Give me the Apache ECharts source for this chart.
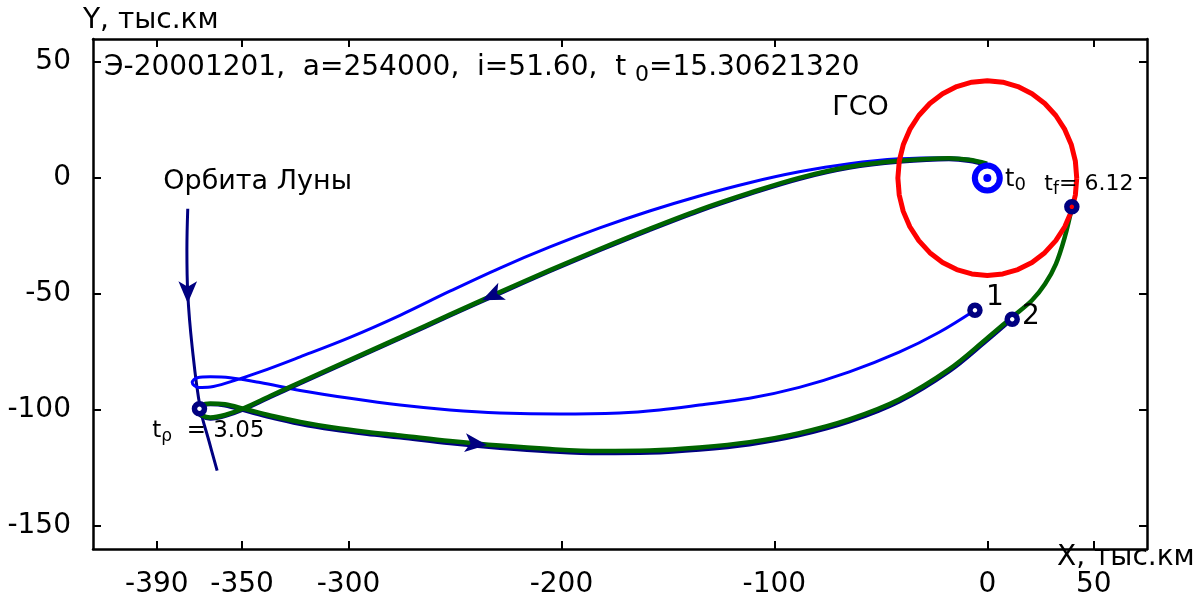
<!DOCTYPE html>
<html><head><meta charset="utf-8">
<script src="https://cdn.jsdelivr.net/npm/echarts@6/dist/echarts.min.js"></script>
<style>html,body{margin:0;padding:0;background:#fff}#c{width:1200px;height:601px}</style>
</head><body><div id="c"></div>
<script>
// ---- data (thousand km) ----
const xTicks = [-390, -350, -300, -200, -100, 0, 50];
const yTicks = [-150, -100, -50, 0, 50];

const gsoOrbit = [[42,0],[41.36,7.29],[39.47,14.36],[36.37,21.0],[32.17,27.0],[27.0,32.17],[21.0,36.37],[14.36,39.47],[7.29,41.36],[0,42],[-7.29,41.36],[-14.36,39.47],[-21.0,36.37],[-27.0,32.17],[-32.17,27.0],[-36.37,21.0],[-39.47,14.36],[-41.36,7.29],[-42,0],[-41.36,-7.29],[-39.47,-14.36],[-36.37,-21.0],[-32.17,-27.0],[-27.0,-32.17],[-21.0,-36.37],[-14.36,-39.47],[-7.29,-41.36],[0,-42],[7.29,-41.36],[14.36,-39.47],[21.0,-36.37],[27.0,-32.17],[32.17,-27.0],[36.37,-21.0],[39.47,-14.36],[41.36,-7.29],[42,0]];

const moonOrbit = [[-375.5,-13.2],[-375.9,-31.0],[-375.5,-49.6],[-373.4,-73.0],[-369.6,-99.4],[-365.6,-113.2],[-361.7,-126.2]];

const blueTraj = [[-0.1,6.2],[-8.6,8.1],[-18.0,8.8],[-41.4,8.3],[-64.8,6.2],[-88.3,2.7],[-111.7,-2.0],[-135.2,-7.7],[-158.6,-14.2],[-182.0,-21.5],[-205.4,-29.7],[-228.9,-38.8],[-252.4,-48.8],[-275.8,-59.2],[-299.3,-68.7],[-322.7,-77.1],[-341.5,-83.6],[-355.6,-87.9],[-364.9,-90.1],[-370.6,-90.3],[-373.4,-88.2],[-371.0,-86.1],[-364.9,-85.7],[-355.6,-86.1],[-341.5,-88.2],[-322.7,-91.6],[-299.3,-95.0],[-275.8,-97.9],[-252.4,-100.0],[-228.9,-101.3],[-200.8,-101.8],[-172.7,-101.3],[-153.9,-100.0],[-135.2,-97.9],[-111.7,-95.0],[-88.3,-90.3],[-64.8,-83.6],[-41.4,-75.1],[-22.6,-66.5],[-5.8,-57.0]];

const greenTraj = [[-0.1,6.2],[-8.6,7.9],[-18.0,8.6],[-41.4,7.5],[-64.8,4.9],[-88.3,0.1],[-111.7,-6.4],[-135.2,-13.7],[-158.6,-21.9],[-182.0,-30.6],[-205.4,-39.7],[-228.9,-49.2],[-252.4,-58.9],[-275.8,-68.7],[-299.3,-78.4],[-322.7,-88.1],[-336.8,-94.0],[-349.5,-99.4],[-358.0,-102.2],[-364.9,-103.3],[-368.7,-102.4],[-370.9,-100.2],[-369.1,-98.0],[-364.9,-97.2],[-358.0,-97.6],[-349.5,-99.4],[-336.8,-102.4],[-322.7,-105.2],[-307.3,-107.6],[-291.3,-109.5],[-275.8,-111.0],[-252.4,-113.4],[-228.9,-115.4],[-205.4,-116.9],[-182.0,-117.7],[-158.6,-117.5],[-135.2,-116.2],[-111.7,-113.9],[-88.3,-110.0],[-64.8,-104.1],[-41.4,-95.5],[-18.0,-82.5],[-0.6,-69.5],[11.6,-60.0],[21.0,-52.7],[27.1,-45.7],[32.2,-37.1],[36.4,-25.4],[39.7,-12.8]];

const navyTraj = [[-0.1,5.6],[-8.6,7.3],[-18.0,8.0],[-41.4,6.9],[-64.8,4.3],[-88.3,-0.5],[-111.7,-7.0],[-135.2,-14.3],[-158.6,-22.5],[-182.0,-31.2],[-205.4,-40.3],[-228.9,-49.8],[-252.4,-59.5],[-275.8,-69.3],[-299.3,-79.0],[-322.7,-88.7],[-336.8,-94.6],[-349.5,-100.0],[-358.0,-102.8],[-364.9,-103.9],[-368.7,-103.0],[-370.9,-100.6],[-369.1,-98.4],[-364.9,-97.7],[-358.0,-98.2],[-349.5,-100.2],[-336.8,-103.3],[-322.7,-106.2],[-307.3,-108.6],[-291.3,-110.5],[-275.8,-112.0],[-252.4,-114.5],[-228.9,-116.5],[-205.4,-118.0],[-182.0,-118.8],[-158.6,-118.6],[-135.2,-117.3],[-111.7,-115.0],[-88.3,-111.1],[-64.8,-105.2],[-41.4,-96.6],[-18.0,-83.6],[-0.6,-70.6],[11.7,-60.9]];

const earthPoint = [0, 0];
const keyPoints = [[39.7,-12.4],[-5.8,-57.0],[11.7,-60.9],[-370.0,-99.5]];
const keyFill = ['#ff0000','#ffffff','#ffffff','#ffffff'];

const arrowPoints = [[-375.5,-54.0],[-237.3,-52.7],[-235.0,-115.1]];
const arrowRotate = [180, 114, -96];

const annoText = ['ГСО','Орбита Луны','t{s|0}','t{s|f}= 6.12','1','2','t{s|ρ}  = 3.05'];
const annoPos = [[-72.8,30.2],[-387.0,-1.6],[8.3,-0.7],[26.8,-2.5],[-0.6,-51.6],[16.3,-59.6],[-392.2,-109.1]];
const annoSize = [27,27,24,22,28,28,23];

const titleText = 'Э-20001201,  a=254000,  i=51.60,  t {s|0}=15.30621320';
const yName = 'Y, тыс.км';
const xName = 'X, тыс.км';

const FONT = 'DejaVu Sans';
const chart = echarts.init(document.getElementById('c'), null, {renderer:'canvas'});

const axisCommon = {
  type:'value', scale:false,
  axisLine:{show:true, onZero:false, lineStyle:{color:'#000', width:2.5}},
  axisTick:{show:true, inside:true, length:8, lineStyle:{color:'#000', width:2}},
  splitLine:{show:false}
};

const option = {
  backgroundColor:'#fff',
  animation:false,
  title:{
    text:titleText, left:99, top:45,
    textStyle:{fontFamily:FONT, fontSize:28, fontWeight:'normal', color:'#000',
      rich:{s:{fontFamily:FONT, fontSize:22, color:'#000', padding:[14,0,0,0]}}}
  },
  grid:{left:93, right:53, top:39, bottom:52, containLabel:false},
  xAxis:[
    Object.assign({}, axisCommon, {min:-420, max:75, position:'bottom',
      axisTick:Object.assign({}, axisCommon.axisTick, {customValues:xTicks}),
      axisLabel:{show:true, customValues:xTicks, margin:22, fontFamily:FONT, fontSize:28, color:'#000'}}),
    Object.assign({}, axisCommon, {min:-420, max:75, position:'top',
      axisTick:Object.assign({}, axisCommon.axisTick, {customValues:xTicks}),
      axisLabel:{show:false}})
  ],
  yAxis:[
    Object.assign({}, axisCommon, {min:-160, max:60, position:'left',
      axisTick:Object.assign({}, axisCommon.axisTick, {customValues:yTicks}),
      axisLabel:{show:true, customValues:yTicks, margin:22, fontFamily:FONT, fontSize:28, color:'#000'}}),
    Object.assign({}, axisCommon, {min:-160, max:60, position:'right',
      axisTick:Object.assign({}, axisCommon.axisTick, {customValues:yTicks}),
      axisLabel:{show:false}})
  ],
  graphic:[
    {type:'text', x:83, y:21, style:{text:yName, fill:'#000', font:'28px "DejaVu Sans"', align:'left', verticalAlign:'middle'}},
    {type:'text', x:1057, y:558, style:{text:xName, fill:'#000', font:'28px "DejaVu Sans"', align:'left', verticalAlign:'middle'}}
  ],
  series:[
    {type:'line', name:'moon', data:moonOrbit, showSymbol:false, smooth:0.4, lineStyle:{color:'#000080', width:3}, z:2},
    {type:'line', name:'blue', data:blueTraj, showSymbol:false, smooth:0.35, lineStyle:{color:'#0000ff', width:3}, z:3},
    {type:'line', name:'navy', data:navyTraj, showSymbol:false, smooth:0.35, lineStyle:{color:'#000080', width:3.5}, z:3},
    {type:'line', name:'green', data:greenTraj, showSymbol:false, smooth:0.35, lineStyle:{color:'#006400', width:4.5}, z:4},
    {type:'line', name:'gso', data:gsoOrbit, showSymbol:false, smooth:false, lineStyle:{color:'#ff0000', width:5}, z:5},
    {type:'scatter', name:'arrows', z:6, symbol:'arrow',
      data:arrowPoints.map((p,i)=>({value:p, symbolRotate:arrowRotate[i]})),
      symbolSize:[14,22], itemStyle:{color:'#000080', opacity:1}},
    {type:'scatter', name:'earth', z:7, data:[earthPoint], symbol:'circle', symbolSize:25,
      itemStyle:{color:'#ffffff', borderColor:'#0000ff', borderWidth:6, opacity:1}},
    {type:'scatter', name:'earthDot', z:8, data:[earthPoint], symbol:'circle', symbolSize:8,
      itemStyle:{color:'#0000ff', opacity:1}},
    {type:'scatter', name:'points', z:8, symbol:'circle', symbolSize:10,
      data:keyPoints.map((p,i)=>({value:p, itemStyle:{color:keyFill[i]}})),
      itemStyle:{borderColor:'#000080', borderWidth:5.5, opacity:1}},
    {type:'scatter', name:'annotations', z:9, symbolSize:0, silent:true,
      itemStyle:{opacity:1},
      data:annoPos.map((p,i)=>({value:p, label:{fontSize:annoSize[i], color:'#000', opacity:1, formatter:annoText[i],
        rich:{s:{fontFamily:FONT, fontSize:Math.round(annoSize[i]*0.75), color:'#000', padding:[12,0,0,0]}}}})),
      label:{show:true, position:[0,0], align:'left', verticalAlign:'middle', fontFamily:FONT, color:'#000', opacity:1}}
  ]
};
chart.setOption(option);
</script>
</body></html>
